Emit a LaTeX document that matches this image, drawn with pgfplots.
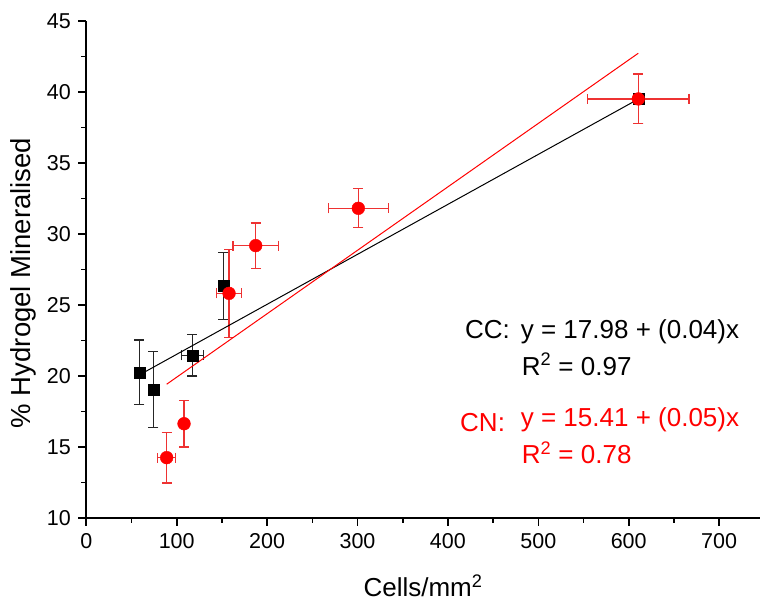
\documentclass[border=0pt]{standalone}
\usepackage{pgfplots}
\pgfplotsset{compat=1.18}
\usepackage{fontspec}
\setmainfont{Liberation Sans}
\definecolor{errred}{RGB}{238,50,50}

\pgfplotstableread{
x     y      ex   ey
58.6  20.26  0    2.27
74.1  19.06  0    2.67
117.3 21.46  12   1.47
151.6 26.34  0    2.34
610.6 39.51  56   1.75
}\ccdata

\pgfplotstableread{
x     y      ex   ey
88.9  14.25  10   1.78
108.1 16.64  0    1.65
157.9 25.82  14   3.10
187.4 29.18  25   1.60
300.9 31.81  33   1.37
610.6 39.51  56   1.75
}\cndata

\begin{document}
\begin{tikzpicture}
\path[use as bounding box] (-86.3pt,-83pt) rectangle (673.7pt,518pt);
\begin{axis}[
  at={(0,0)}, anchor=south west,
  scale only axis, width=673.5pt, height=497pt,
  xmin=0, xmax=745, ymin=10, ymax=45,
  axis x line*=bottom, axis y line*=left,
  axis line style={line width=1.6pt},
  xtick={0,100,...,700}, ytick={10,15,...,45},
  minor x tick num=1, minor y tick num=1,
  tick align=outside,
  major tick length=8pt, minor tick length=5pt,
  tick style={line width=1.6pt, black},
  tick label style={font=\fontsize{21.5}{26}\selectfont},
  xticklabel style={yshift=-4pt},
  yticklabel style={xshift=-4pt},
  /pgf/number format/assume math mode=true,
  xlabel={Cells/mm\textsuperscript{2}},
  ylabel={\% Hydrogel Mineralised},
  xlabel style={font=\fontsize{26}{31}\selectfont, at={(axis description cs:0.5,-0.136)}, anchor=center},
  ylabel style={font=\fontsize{27.5}{33}\selectfont, at={(axis description cs:-0.093,0.473)}, anchor=center},
  clip=false,
]
\addplot[only marks, mark=square*, mark size=5.5pt, black,
  error bars/.cd, x dir=both, x explicit, y dir=both, y explicit,
  error bar style={line width=1.3pt, black!85},
  error mark options={rotate=90, mark size=5pt, line width=1.3pt, black!85}]
  table[x=x, y=y, x error=ex, y error=ey] {\ccdata};
\addplot[only marks, mark=*, mark size=6.4pt, red, mark options={draw=red, fill=red},
  error bars/.cd, x dir=both, x explicit, y dir=both, y explicit,
  error bar style={line width=1.3pt, errred},
  error mark options={rotate=90, mark size=5pt, line width=1.3pt, errred}]
  table[x=x, y=y, x error=ex, y error=ey] {\cndata};
\addplot[black, line width=1pt, no marks] coordinates {(58.6,20.07) (610.6,39.5)};
\addplot[red, line width=1pt, no marks] coordinates {(88.9,19.42) (610.6,42.73)};

\node[anchor=base west, font=\fontsize{26}{31}\selectfont] at (axis cs:415.2,22.65) {CC:};
\node[anchor=base west, font=\fontsize{26}{31}\selectfont] at (axis cs:476.8,22.65) {y = 17.98 + (0.04)x};
\node[anchor=base west, font=\fontsize{26}{31}\selectfont] at (axis cs:477.9,20.07) {R\textsuperscript{2} = 0.97};
\node[anchor=base west, font=\fontsize{26}{31}\selectfont, red] at (axis cs:409.7,16.08) {CN:};
\node[anchor=base west, font=\fontsize{26}{31}\selectfont, red] at (axis cs:476.8,16.43) {y = 15.41 + (0.05)x};
\node[anchor=base west, font=\fontsize{26}{31}\selectfont, red] at (axis cs:477.9,13.85) {R\textsuperscript{2} = 0.78};
\end{axis}
\end{tikzpicture}
\end{document}
